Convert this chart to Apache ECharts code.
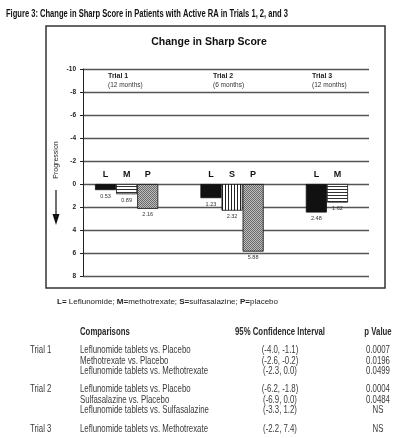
<!DOCTYPE html>
<html>
<head>
<meta charset="utf-8">
<script src="https://cdn.jsdelivr.net/npm/echarts@6/dist/echarts.min.js"></script>
<style>
  html, body { margin: 0; padding: 0; background: #fff; }
  #chart { width: 400px; height: 438px; }
</style>
</head>
<body>
<div id="chart"></div>
<script>
// chart data
const figureTitle = 'Figure 3: Change in Sharp Score in Patients with Active RA in Trials 1, 2, and 3'
const chartTitle = 'Change in Sharp Score'
const trialNames = ['Trial 1', 'Trial 2', 'Trial 3']
const trialMonths = ['(12 months)', '(6 months)', '(12 months)']
const groupLetters = [['L', 'M', 'P'], ['L', 'S', 'P'], ['L', 'M']]
const groupValues = [[0.53, 0.89, 2.16], [1.23, 2.32, 5.88], [2.48, 1.62]]
const yMin = -10
const yMax = 8
const yStep = 2
const axisName = 'Progression'
const drugCodes = ['L', 'M', 'S', 'P']
const drugNames = ['Leflunomide', 'methotrexate', 'sulfasalazine', 'placebo']

// table under the chart
const tableHeaders = ['Comparisons', '95% Confidence Interval', 'p Value']
const tableTrials = ['Trial 1', 'Trial 2', 'Trial 3']
const comparisons = [
  ['Leflunomide tablets vs. Placebo', 'Methotrexate vs. Placebo', 'Leflunomide tablets vs. Methotrexate'],
  ['Leflunomide tablets vs. Placebo', 'Sulfasalazine vs. Placebo', 'Leflunomide tablets vs. Sulfasalazine'],
  ['Leflunomide tablets vs. Methotrexate']
]
const confIntervals = [
  ['(-4.0, -1.1)', '(-2.6, -0.2)', '(-2.3, 0.0)'],
  ['(-6.2, -1.8)', '(-6.9, 0.0)', '(-3.3, 1.2)'],
  ['(-2.2, 7.4)']
]
const pValues = [
  ['0.0007', '0.0196', '0.0499'],
  ['0.0004', '0.0484', 'NS'],
  ['NS']
]

const SANS = "'Liberation Sans', Arial, sans-serif"

// the printed figure uses a condensed face; squeeze normal text to the same width
const measureCtx = document.createElement('canvas').getContext('2d')
function squeeze(text, font, width) {
  measureCtx.font = font
  return width / measureCtx.measureText(text).width
}

// small repeating fills for the bars
function makePattern(w, h, draw) {
  const c = document.createElement('canvas')
  c.width = w
  c.height = h
  draw(c.getContext('2d'))
  return { image: c, repeat: 'repeat' }
}

const fills = {
  L: '#111',
  M: makePattern(1, 3, ctx => {
    ctx.fillStyle = '#fff'; ctx.fillRect(0, 0, 1, 3)
    ctx.fillStyle = '#333'; ctx.fillRect(0, 0, 1, 1)
  }),
  S: makePattern(3, 1, ctx => {
    ctx.fillStyle = '#fff'; ctx.fillRect(0, 0, 3, 1)
    ctx.fillStyle = '#222'; ctx.fillRect(0, 0, 1, 1)
  }),
  P: makePattern(2, 2, ctx => {
    ctx.fillStyle = '#bdbdbd'; ctx.fillRect(0, 0, 2, 2)
    ctx.fillStyle = '#6a6a6a'
    ctx.fillRect(0, 0, 1, 1); ctx.fillRect(1, 1, 1, 1)
  })
}

// one slot per bar, two empty slots between trials
const slots = []
const barData = []
const letterData = []
groupLetters.forEach((letters, g) => {
  if (g > 0) {
    slots.push('', ' ')
    barData.push(null, null)
    letterData.push(null, null)
  }
  letters.forEach((code, i) => {
    slots.push(code)
    barData.push({ value: groupValues[g][i], itemStyle: { color: fills[code] } })
    letterData.push(0)
  })
})

// layout
const plot = { left: 83, right: 31, top: 69, bottom: 162 }
const bars = { left: 95, right: 52 }
const trialX = [108, 213, 312]

const titleFont = 'bold 10.5px ' + SANS
const graphic = [
  { type: 'rect', shape: { x: 46, y: 26, width: 339, height: 262 },
    style: { fill: 'none', stroke: '#333', lineWidth: 1.5 } },
  { type: 'text', x: 6, y: 14, scaleX: squeeze(figureTitle, titleFont, 282),
    style: { text: figureTitle, font: titleFont, fill: '#111', textVerticalAlign: 'middle' } },
  { type: 'text', x: 209, y: 42,
    style: { text: chartTitle, font: 'bold 10.5px ' + SANS, fill: '#111', textAlign: 'center', textVerticalAlign: 'middle' } },
  { type: 'text', x: 56, y: 160, rotation: Math.PI / 2,
    style: { text: axisName, font: '7px ' + SANS, fill: '#222', textAlign: 'center', textVerticalAlign: 'middle' } },
  { type: 'line', shape: { x1: 56, y1: 190, x2: 56, y2: 216 }, style: { stroke: '#111', lineWidth: 1.2 } },
  { type: 'polygon', shape: { points: [[52.5, 214], [59.5, 214], [56, 225]] }, style: { fill: '#111' } }
]

trialNames.forEach((name, i) => {
  graphic.push({ type: 'text', x: trialX[i], y: 76,
    style: { text: name, font: 'bold 7px ' + SANS, fill: '#222', textVerticalAlign: 'middle' } })
  graphic.push({ type: 'text', x: trialX[i], y: 85,
    style: { text: trialMonths[i], font: '6.5px ' + SANS, fill: '#333', textVerticalAlign: 'middle' } })
})

// footnote with bold codes
graphic.push({ type: 'text', x: 57, y: 302,
  style: {
    text: drugCodes.map((c, i) => '{b|' + c + '=}' + (i === 0 ? ' ' : '') + drugNames[i]).join('; '),
    font: '8px ' + SANS, fill: '#222', textVerticalAlign: 'middle',
    rich: { b: { font: 'bold 8px ' + SANS, fill: '#222' } }
  } })

// table
const colX = [80, 280, 378]
const tableFont = '10.5px ' + SANS
const tableBold = 'bold 10.5px ' + SANS
const k = squeeze(comparisons[0][2], tableFont, 128)
const kb = squeeze(tableHeaders[1], tableBold, 90)
function cell(text, x, y, align, bold) {
  return {
    type: 'text', x, y, scaleX: bold ? kb : k,
    style: { text, font: bold ? tableBold : tableFont, fill: bold ? '#2a2a2a' : '#3a3a3a', textAlign: align, textVerticalAlign: 'middle' }
  }
}
graphic.push(
  cell(tableHeaders[0], colX[0], 332, 'left', true),
  cell(tableHeaders[1], colX[1], 332, 'center', true),
  cell(tableHeaders[2], colX[2], 332, 'center', true)
)
const groupTop = [350, 389, 429]
const rowH = 10.7
tableTrials.forEach((t, g) => {
  graphic.push(cell(t, 30, groupTop[g], 'left'))
  comparisons[g].forEach((c, r) => {
    const y = groupTop[g] + r * rowH
    graphic.push(
      cell(c, colX[0], y, 'left'),
      cell(confIntervals[g][r], colX[1], y, 'center'),
      cell(pValues[g][r], colX[2], y, 'center')
    )
  })
})

const chart = echarts.init(document.getElementById('chart'), null, { renderer: 'canvas' })
chart.setOption({
  animation: false,
  backgroundColor: '#fff',
  grid: [
    { left: plot.left, right: plot.right, top: plot.top, bottom: plot.bottom },
    { left: bars.left, right: bars.right, top: plot.top, bottom: plot.bottom }
  ],
  xAxis: [
    { gridIndex: 0, type: 'category', data: [''], show: false },
    { gridIndex: 1, type: 'category', data: slots, show: false }
  ],
  yAxis: [
    {
      gridIndex: 0, type: 'value', inverse: true, min: yMin, max: yMax, interval: yStep,
      axisLine: { show: true, lineStyle: { color: '#222', width: 1 } },
      axisTick: { show: true, length: 3, lineStyle: { color: '#222' } },
      axisLabel: { margin: 7, fontFamily: SANS, fontWeight: 'bold', fontSize: 6.5, color: '#222' },
      splitLine: { show: true, lineStyle: { color: '#555', width: 1.4 } }
    },
    { gridIndex: 1, type: 'value', inverse: true, min: yMin, max: yMax, interval: yStep, show: false }
  ],
  series: [
    {
      type: 'bar',
      xAxisIndex: 1,
      yAxisIndex: 1,
      data: barData,
      barCategoryGap: '0%',
      itemStyle: { borderColor: '#111', borderWidth: 0.8 },
      label: {
        show: true, position: 'bottom', distance: 3,
        formatter: p => p.value.toFixed(2),
        fontFamily: SANS, fontSize: 5.5, color: '#333'
      }
    },
    {
      // zero-height bars that only carry the drug letter above the 0 line
      type: 'bar',
      xAxisIndex: 1,
      yAxisIndex: 1,
      data: letterData,
      barCategoryGap: '0%',
      barGap: '-100%',
      silent: true,
      itemStyle: { color: 'transparent' },
      label: {
        show: true, position: 'top', distance: 5,
        formatter: p => slots[p.dataIndex],
        fontFamily: SANS, fontWeight: 'bold', fontSize: 9, color: '#111'
      }
    }
  ],
  graphic: graphic
})
</script>
</body>
</html>
